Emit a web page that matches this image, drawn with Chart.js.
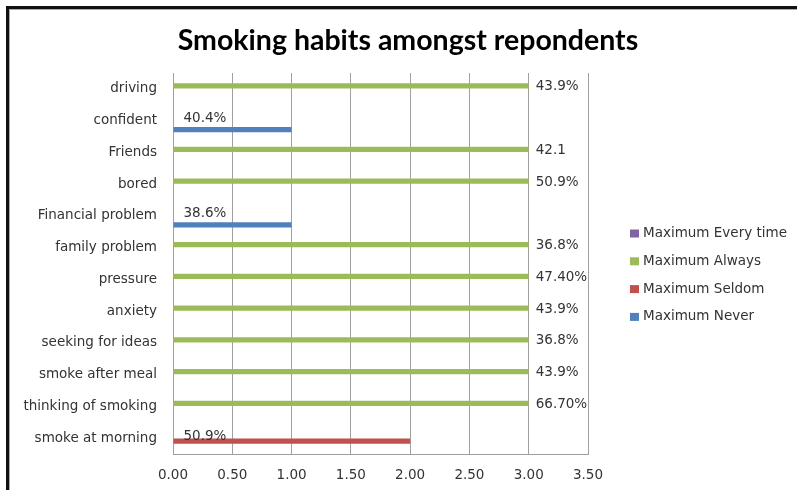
<!DOCTYPE html>
<html>
<head>
<meta charset="utf-8">
<title>Smoking habits amongst repondents</title>
<script src="https://cdn.jsdelivr.net/npm/chart.js@4.4.1/dist/chart.umd.min.js"></script>
<style>
    html, body { margin: 0; padding: 0; background: #fff; overflow: hidden; }
    #wrap { position: relative; width: 797px; height: 490px; }
    #frame {
        position: absolute; left: 6px; top: 6px; right: -20px; bottom: -20px;
        border-left: 3px solid #111; border-top: 3px solid #111;
        box-shadow: inset 1px 1px 0 #aaa; pointer-events: none;
    }
</style>
</head>
<body>
<div id="wrap">
    <canvas id="grafico" width="797" height="490"></canvas>
    <div id="frame"></div>
</div>
<script>
var categorias = ['driving', 'confident', 'Friends', 'bored', 'Financial problem', 'family problem',
    'pressure', 'anxiety', 'seeking for ideas', 'smoke after meal', 'thinking of smoking', 'smoke at morning'];

var valoresEveryTime = [null, null, null, null, null, null, null, null, null, null, null, null];
var valoresAlways = [3, null, 3, 3, null, 3, 3, 3, 3, 3, 3, null];
var valoresSeldom = [null, null, null, null, null, null, null, null, null, null, null, 2];
var valoresNever = [null, 1, null, null, 1, null, null, null, null, null, null, null];

// texto dos rotulos, um por categoria
var rotulos = ['43.9%', '40.4%', '42.1', '50.9%', '38.6%', '36.8%',
    '47.40%', '43.9%', '36.8%', '43.9%', '66.70%', '50.9%'];

var fonte = { family: '"DejaVu Sans"', size: 13.5 };
var cinza = '#a0a0a0';

// rotulos: serie Always fora da ponta, as outras dentro da base
var pluginRotulos = {
    id: 'rotulos',
    afterDatasetsDraw: function(chart) {
        var ctx = chart.ctx;
        var escalaY = chart.scales.y;
        ctx.save();
        ctx.font = '13.5px "DejaVu Sans"';
        ctx.fillStyle = '#333';
        ctx.textBaseline = 'middle';
        ctx.textAlign = 'left';
        chart.data.datasets.forEach(function(ds, d) {
            var meta = chart.getDatasetMeta(d);
            meta.data.forEach(function(barra, i) {
                if (ds.data[i] == null) return;
                var y = escalaY.getPixelForValue(i) - 2;
                var x = ds.rotuloFora ? barra.x + 7 : barra.base + 10;
                ctx.fillText(rotulos[i], x, y);
            });
        });
        ctx.restore();
    }
};

// legenda desenhada a direita, na ordem das series
var pluginLegenda = {
    id: 'legendaDireita',
    afterDraw: function(chart) {
        var ctx = chart.ctx;
        var area = chart.chartArea;
        var x = area.right + 42;
        var y = (area.top + area.bottom) / 2 - 30;
        ctx.save();
        ctx.font = '13.5px "DejaVu Sans"';
        ctx.textBaseline = 'middle';
        ctx.textAlign = 'left';
        chart.data.datasets.forEach(function(ds, i) {
            var yi = y + i * 27.8;
            ctx.fillStyle = ds.backgroundColor;
            ctx.fillRect(x, yi - 4, 9, 8);
            ctx.fillStyle = '#333';
            ctx.fillText(ds.label, x + 13, yi);
        });
        ctx.restore();
    }
};

var ctx = document.getElementById('grafico').getContext('2d');
window.grafico = new Chart(ctx, {
    type: 'bar',
    data: {
        labels: categorias,
        datasets: [
            { label: 'Maximum Every time', data: valoresEveryTime, backgroundColor: '#8064A2' },
            { label: 'Maximum Always', data: valoresAlways, backgroundColor: '#9BBB59', rotuloFora: true },
            { label: 'Maximum Seldom', data: valoresSeldom, backgroundColor: '#C0504D' },
            { label: 'Maximum Never', data: valoresNever, backgroundColor: '#4F81BD' }
        ]
    },
    options: {
        indexAxis: 'y',
        responsive: false,
        animation: false,
        categoryPercentage: 0.756,
        barPercentage: 0.9,
        layout: { padding: { left: 19, right: 0, top: 0, bottom: 0 } },
        scales: {
            x: {
                type: 'linear',
                min: 0,
                max: 3.5,
                ticks: {
                    stepSize: 0.5,
                    font: fonte,
                    color: '#333',
                    padding: 13,
                    callback: function(v) { return v.toFixed(2); }
                },
                grid: { color: cinza, drawTicks: false },
                border: { color: cinza },
                afterFit: function(s) { s.height = 36; }
            },
            y: {
                grid: { display: false },
                border: { color: cinza },
                ticks: { font: fonte, color: '#333', padding: 8, autoSkip: false },
                afterFit: function(s) { s.width = 154; }
            },
            // espaco vazio a direita, onde fica a legenda
            y2: {
                type: 'linear',
                position: 'right',
                grid: { display: false },
                border: { display: false },
                ticks: { display: false },
                afterFit: function(s) { s.width = 209; }
            }
        },
        plugins: {
            title: {
                display: true,
                text: 'Smoking habits amongst repondents',
                color: '#000',
                font: { family: 'Lato', size: 28.5, weight: 'bold' },
                padding: { top: 23.5, bottom: 15.3 }
            },
            legend: { display: false },
            tooltip: { enabled: false }
        }
    },
    plugins: [pluginRotulos, pluginLegenda]
});
</script>
</body>
</html>
